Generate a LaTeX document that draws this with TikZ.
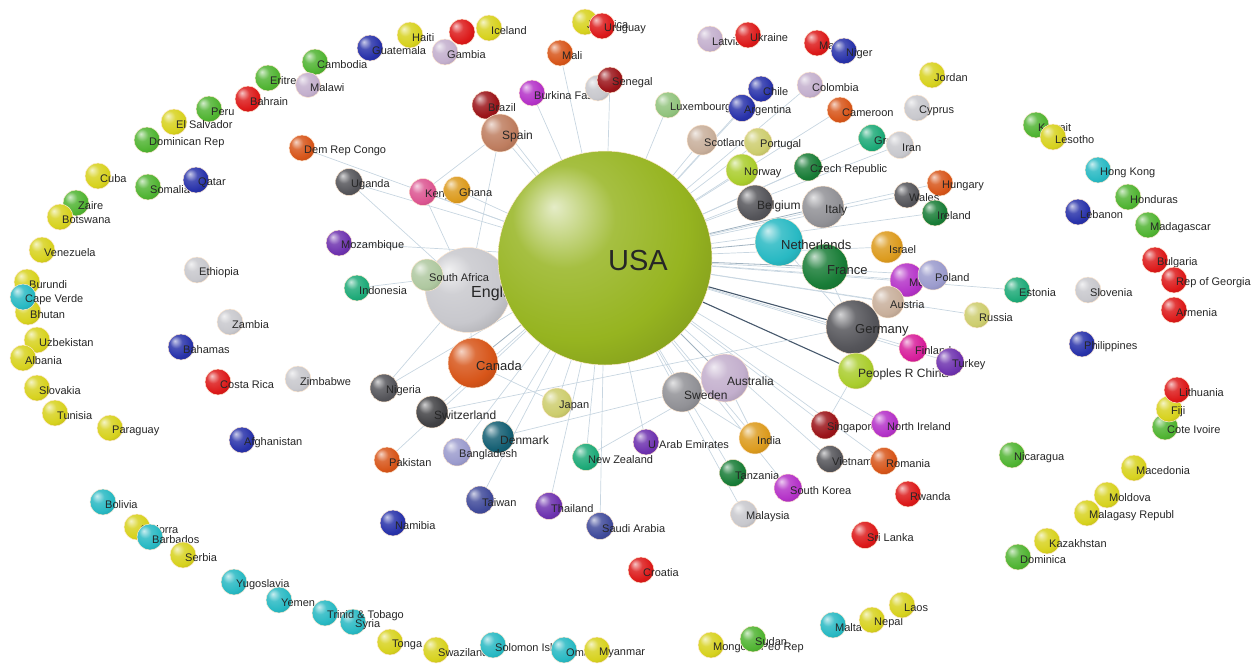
\documentclass[tikz,border=0pt]{standalone}
\usepackage{fontspec}
\setmainfont{Liberation Sans}
\usetikzlibrary{backgrounds}
\definecolor{cyel}{RGB}{215,210,30}
\definecolor{cgrn}{RGB}{80,180,50}
\definecolor{ccyn}{RGB}{40,185,195}
\definecolor{cred}{RGB}{220,25,25}
\definecolor{cblu}{RGB}{40,50,170}
\definecolor{clil}{RGB}{195,175,205}
\definecolor{clgry}{RGB}{200,200,205}
\definecolor{cgry}{RGB}{145,145,150}
\definecolor{cdgry}{RGB}{85,85,90}
\definecolor{corg}{RGB}{215,85,25}
\definecolor{cpur}{RGB}{110,50,175}
\definecolor{cmag}{RGB}{180,50,200}
\definecolor{cdred}{RGB}{155,20,25}
\definecolor{cteal}{RGB}{30,170,120}
\definecolor{cdgrn}{RGB}{25,125,55}
\definecolor{cgold}{RGB}{220,155,30}
\definecolor{ckhak}{RGB}{205,205,110}
\definecolor{cusa}{RGB}{150,180,32}
\definecolor{cbrown}{RGB}{190,125,95}
\definecolor{ctan}{RGB}{200,175,155}
\definecolor{csage}{RGB}{175,200,160}
\definecolor{clgrn}{RGB}{145,195,125}
\definecolor{clav}{RGB}{155,155,205}
\definecolor{cpink}{RGB}{220,85,145}
\definecolor{cfin}{RGB}{215,30,155}
\definecolor{cdteal}{RGB}{20,95,115}
\definecolor{clime}{RGB}{170,205,45}
\definecolor{csblu}{RGB}{65,75,155}
\definecolor{cblk}{RGB}{65,65,68}
\definecolor{edgec}{RGB}{200,214,225}
\definecolor{edgem}{RGB}{160,178,192}
\definecolor{edged}{RGB}{70,88,108}
\pgfdeclareradialshading[tikz@ball]{myball}{\pgfpoint{-12bp}{12bp}}{%
  color(0bp)=(tikz@ball!25!white);
  color(12bp)=(tikz@ball!85!white);
  color(26bp)=(tikz@ball);
  color(42bp)=(tikz@ball!78!black);
  color(60bp)=(tikz@ball!55!black)}
\tikzset{
  sph/.style={circle, inner sep=0pt, draw=orange!18, line width=0.5pt},
  lab/.style={font=\fontsize{11}{11}\selectfont, text=black!85, anchor=west, inner sep=0pt},
  labm/.style={lab, font=\fontsize{12}{12}\selectfont},
  labb/.style={lab, font=\fontsize{13}{13}\selectfont},
  edge/.style={draw=edgec, line width=0.7pt},
  medge/.style={draw=edgem, line width=0.8pt},
  dedge/.style={draw=edged, line width=1.1pt}
}
\newcommand\ctry[7][lab]{%
  \node[sph, minimum size=#5pt, ball color=#6, shading=myball] (#2) at (#3,#4) {};%
  \node[#1] (#2-t) at ([shift={(2,3)}]#2.center) {#7};}
\begin{document}
\begin{tikzpicture}[x=1pt,y=-1pt]
\useasboundingbox (0,0) rectangle (1255,667);
% outer left
\ctry{cambodia}{315}{62}{26}{cgrn}{Cambodia}
\ctry{eritrea}{268}{78}{26}{cgrn}{Eritrea}
\ctry{malawi}{308}{85}{25}{clil}{Malawi}
\ctry{bahrain}{248}{99}{26}{cred}{Bahrain}
\ctry{peru}{209}{109}{26}{cgrn}{Peru}
\ctry{elsalvador}{174}{122}{26}{cyel}{El Salvador}
\ctry{domrep}{147}{140}{26}{cgrn}{Dominican Rep}
\ctry{cuba}{98}{176}{26}{cyel}{Cuba}
\ctry{somalia}{148}{187}{26}{cgrn}{Somalia}
\ctry{qatar}{196}{180}{26}{cblu}{Qatar}
\ctry{zaire}{76}{203}{26}{cgrn}{Zaire}
\ctry{botswana}{60}{217}{26}{cyel}{Botswana}
\ctry{venezuela}{42}{250}{26}{cyel}{Venezuela}
\ctry{burundi}{27}{282}{26}{cyel}{Burundi}
\ctry{bhutan}{28}{312}{26}{cyel}{Bhutan}
\ctry{capeverde}{23}{297}{26}{ccyn}{Cape Verde}
\ctry{uzbek}{37}{340}{26}{cyel}{Uzbekistan}
\ctry{albania}{23}{358}{26}{cyel}{Albania}
\ctry{slovakia}{37}{388}{26}{cyel}{Slovakia}
\ctry{tunisia}{55}{413}{26}{cyel}{Tunisia}
\ctry{paraguay}{110}{428}{26}{cyel}{Paraguay}
% bottom
\ctry{bolivia}{103}{502}{26}{ccyn}{Bolivia}
\ctry{andorra}{137}{527}{26}{cyel}{Andorra}
\ctry{barbados}{150}{537}{26}{ccyn}{Barbados}
\ctry{serbia}{183}{555}{26}{cyel}{Serbia}
\ctry{yugoslavia}{234}{582}{26}{ccyn}{Yugoslavia}
\ctry{yemen}{279}{600}{26}{ccyn}{Yemen}
\ctry{syria}{353}{622}{26}{ccyn}{Syria}
\ctry{trinidad}{325}{613}{26}{ccyn}{Trinid \& Tobago}
\ctry{tonga}{390}{642}{26}{cyel}{Tonga}
\ctry{swaziland}{436}{650}{26}{cyel}{Swaziland}
\ctry{solomon}{493}{645}{26}{ccyn}{Solomon Islands}
\ctry{oman}{564}{650}{26}{ccyn}{Oman}
\ctry{myanmar}{597}{650}{26}{cyel}{Myanmar}
\ctry{mongolia}{711}{645}{26}{cyel}{Mongolia Peo Rep}
\ctry{sudan}{753}{639}{26}{cgrn}{Sudan}
\ctry{malta}{833}{625}{26}{ccyn}{Malta}
\ctry{nepal}{872}{620}{26}{cyel}{Nepal}
\ctry{laos}{902}{605}{26}{cyel}{Laos}
% right
\ctry{kazakh}{1047}{541}{26}{cyel}{Kazakhstan}
\ctry{dominica}{1018}{557}{26}{cgrn}{Dominica}
\ctry{malagasy}{1087}{513}{26}{cyel}{Malagasy Republ}
\ctry{moldova}{1107}{495}{26}{cyel}{Moldova}
\ctry{macedonia}{1134}{468}{26}{cyel}{Macedonia}
\ctry{nicaragua}{1012}{455}{26}{cgrn}{Nicaragua}
\ctry{coteivoire}{1165}{427}{26}{cgrn}{Cote Ivoire}
\ctry{fiji}{1169}{409}{26}{cyel}{Fiji}
\ctry{lithuania}{1177}{390}{26}{cred}{Lithuania}
\ctry{philippines}{1082}{344}{26}{cblu}{Philippines}
\ctry{bulgaria}{1155}{260}{26}{cred}{Bulgaria}
\ctry{georgia}{1174}{280}{26}{cred}{Rep of Georgia}
\ctry{armenia}{1174}{310}{26}{cred}{Armenia}
\ctry{slovenia}{1088}{290}{26}{clgry}{Slovenia}
\ctry{estonia}{1017}{290}{26}{cteal}{Estonia}
\ctry{russia}{977}{315}{26}{ckhak}{Russia}
\ctry{madagascar}{1148}{225}{26}{cgrn}{Madagascar}
\ctry{lebanon}{1078}{212}{26}{cblu}{Lebanon}
\ctry{honduras}{1128}{197}{26}{cgrn}{Honduras}
\ctry{hongkong}{1098}{170}{26}{ccyn}{Hong Kong}
\ctry{kuwait}{1036}{125}{26}{cgrn}{Kuwait}
\ctry{lesotho}{1053}{137}{26}{cyel}{Lesotho}
\ctry{jordan}{932}{75}{26}{cyel}{Jordan}
\ctry{cyprus}{917}{108}{26}{clgry}{Cyprus}
\ctry{greece}{872}{138}{27}{cteal}{Greece}
\ctry{iran}{900}{145}{27}{clgry}{Iran}
\ctry{hungary}{940}{183}{26}{corg}{Hungary}
\ctry{wales}{907}{195}{26}{cdgry}{Wales}
\ctry{ireland}{935}{213}{26}{cdgrn}{Ireland}
% top
\ctry{guatemala}{370}{48}{26}{cblu}{Guatemala}
\ctry{haiti}{410}{35}{26}{cyel}{Haiti}
\ctry{redx}{462}{32}{26}{cred}{}
\ctry{iceland}{489}{28}{26}{cyel}{Iceland}
\ctry{gambia}{445}{52}{26}{clil}{Gambia}
\ctry{jamaica}{585}{22}{26}{cyel}{Jamaica}
\ctry{uruguay}{602}{26}{26}{cred}{Uruguay}
\ctry{mali}{560}{53}{26}{corg}{Mali}
\ctry{burkina}{532}{93}{26}{cmag}{Burkina Faso}
\ctry{senegalw}{598}{88}{26}{clgry}{}
\ctry{senegal}{610}{80}{26}{cdred}{Senegal}
\ctry{latvia}{710}{39}{26}{clil}{Latvia}
\ctry{ukraine}{748}{35}{26}{cred}{Ukraine}
\ctry{macau}{817}{43}{26}{cred}{Macau}
\ctry{niger}{844}{51}{26}{cblu}{Niger}
\ctry{colombia}{810}{85}{26}{clil}{Colombia}
\ctry{chile}{761}{89}{26}{cblu}{Chile}
\ctry{luxembourg}{668}{105}{26}{clgrn}{Luxembourg}
\ctry{argentina}{742}{108}{27}{cblu}{Argentina}
\ctry{cameroon}{840}{110}{26}{corg}{Cameroon}
\ctry{scotland}{702}{140}{30}{ctan}{Scotland}
\ctry{portugal}{758}{142}{28}{ckhak}{Portugal}
\ctry{norway}{742}{170}{32}{clime}{Norway}
\ctry{czech}{808}{167}{28}{cdgrn}{Czech Republic}
\ctry[labm]{belgium}{755}{203}{36}{cdgry}{Belgium}
\ctry[labm]{italy}{823}{207}{42}{cgry}{Italy}
% inner left
\ctry{demcongo}{302}{148}{26}{corg}{Dem Rep Congo}
\ctry{uganda}{349}{182}{27}{cdgry}{Uganda}
\ctry{kenya}{423}{192}{27}{cpink}{Kenya}
\ctry{ghana}{457}{190}{27}{cgold}{Ghana}
\ctry{brazil}{486}{105}{28}{cdred}{Brazil}
\ctry[labm]{spain}{500}{133}{38}{cbrown}{Spain}
\ctry{mozambique}{339}{243}{26}{cpur}{Mozambique}
\ctry{indonesia}{357}{288}{26}{cteal}{Indonesia}
\ctry{ethiopia}{197}{270}{26}{clgry}{Ethiopia}
\ctry{zambia}{230}{322}{26}{clgry}{Zambia}
\ctry{bahamas}{181}{347}{26}{cblu}{Bahamas}
\ctry{costarica}{218}{382}{26}{cred}{Costa Rica}
\ctry{zimbabwe}{298}{379}{26}{clgry}{Zimbabwe}
\ctry{afghanistan}{242}{440}{26}{cblu}{Afghanistan}
\ctry{nigeria}{384}{388}{28}{cdgry}{Nigeria}
\ctry[labm]{switz}{432}{412}{32}{cblk}{Switzerland}
\ctry{japan}{557}{403}{30}{ckhak}{Japan}
\ctry[labm]{denmark}{498}{437}{32}{cdteal}{Denmark}
\ctry{pakistan}{387}{460}{26}{corg}{Pakistan}
\ctry{bangladesh}{457}{452}{28}{clav}{Bangladesh}
\ctry{nz}{586}{457}{27}{cteal}{New Zealand}
\ctry{taiwan}{480}{500}{28}{csblu}{Taiwan}
\ctry{thailand}{549}{506}{27}{cpur}{Thailand}
\ctry{namibia}{393}{523}{26}{cblu}{Namibia}
\ctry{saudi}{600}{526}{27}{csblu}{Saudi Arabia}
\ctry{croatia}{641}{570}{26}{cred}{Croatia}
% center right
\ctry[labb]{france}{825}{267}{46}{cdgrn}{France}
\ctry[labb]{netherlands}{779}{242}{48}{ccyn}{Netherlands}
\ctry{israel}{887}{247}{32}{cgold}{Israel}
\ctry{mexico}{907}{280}{34}{cmag}{Mexico}
\ctry{poland}{933}{275}{30}{clav}{Poland}
\ctry{austria}{888}{302}{32}{ctan}{Austria}
\ctry[labb]{germany}{853}{327}{54}{cdgry}{Germany}
\ctry{finland}{913}{348}{28}{cfin}{Finland}
\ctry[labm]{prc}{856}{371}{36}{clime}{Peoples R China}
\ctry{turkey}{950}{362}{28}{cpur}{Turkey}
\ctry[labm]{australia}{725}{378}{48}{clil}{Australia}
\ctry[labm]{sweden}{682}{392}{40}{cgry}{Sweden}
\ctry{singapore}{825}{425}{28}{cdred}{Singapore}
\ctry{nireland}{885}{424}{27}{cmag}{North Ireland}
\ctry{uae}{646}{442}{26}{cpur}{U Arab Emirates}
\ctry{india}{755}{438}{32}{cgold}{India}
\ctry{tanzania}{733}{473}{27}{cdgrn}{Tanzania}
\ctry{skorea}{788}{488}{28}{cmag}{South Korea}
\ctry{malaysia}{744}{514}{27}{clgry}{Malaysia}
\ctry{vietnam}{830}{459}{27}{cdgry}{Vietnam}
\ctry{romania}{884}{461}{27}{corg}{Romania}
\ctry{rwanda}{908}{494}{26}{cred}{Rwanda}
\ctry{srilanka}{865}{535}{27}{cred}{Sri Lanka}
% big nodes
\node[sph, minimum size=85pt, ball color=clgry, shading=myball] (england) at (468,290) {};
\node[lab, font=\fontsize{16}{16}\selectfont] (england-t) at ([shift={(3,3)}]england.center) {England};
\ctry{safrica}{427}{275}{32}{csage}{South Africa}
\node[sph, minimum size=50pt, ball color=corg, shading=myball] (canada) at (473,363) {};
\node[labb] (canada-t) at ([shift={(3,3)}]canada.center) {Canada};
\node[sph, minimum size=214pt, ball color=cusa, shading=myball] (usa) at (605,258) {};
\node[lab, font=\fontsize{29}{29}\selectfont] (usa-t) at ([shift={(3,3)}]usa.center) {USA};
% edges
\begin{scope}[on background layer]
\foreach \t in {spain,brazil,burkina,mali,senegal,kenya,ghana,uganda,safrica,nigeria,switz,japan,denmark,bangladesh,nz,uae,sweden,india,tanzania,skorea,singapore,nireland,vietnam,romania,belgium,norway,scotland,portugal,czech,luxembourg,argentina,chile,colombia,cameroon,greece,iran,wales,ireland,hungary,israel,mexico,poland,austria,finland,turkey,russia,taiwan,thailand,mozambique,indonesia,demcongo,malaysia,estonia,saudi,pakistan}
  \draw[edge] (usa) -- (\t);
\foreach \t in {england,canada,france,netherlands,italy,australia}
  \draw[medge] (usa) -- (\t);
\draw[dedge] (usa) -- (germany);
\draw[dedge] (usa) -- (prc);
\draw[edge] (england) -- (canada);
\draw[edge] (england) -- (spain);
\draw[edge] (england) -- (kenya);
\draw[edge] (england) -- (uganda);
\draw[edge] (england) -- (nigeria);
\draw[edge] (switz) -- (germany);
\draw[edge] (canada) -- (japan);
\draw[edge] (germany) -- (prc);
\draw[edge] (germany) -- (france);
\draw[edge] (germany) -- (netherlands);
\draw[edge] (germany) -- (austria);
\draw[edge] (sweden) -- (india);
\draw[edge] (australia) -- (india);
\draw[edge] (australia) -- (nz);
\draw[edge] (prc) -- (singapore);
\draw[edge] (sweden) -- (denmark);
\draw[edge] (spain) -- (kenya);
\end{scope}
\end{tikzpicture}
\end{document}
